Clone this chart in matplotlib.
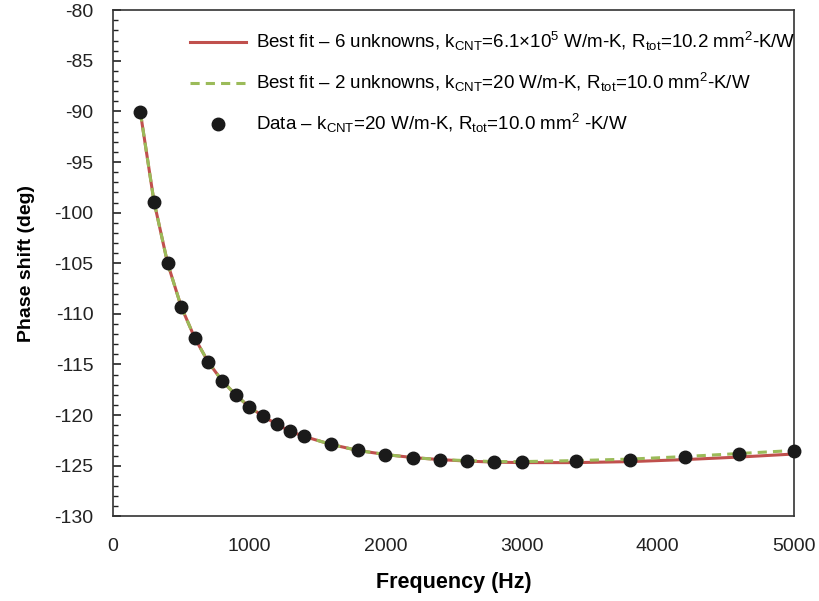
import matplotlib
matplotlib.use('Agg')
import matplotlib.pyplot as plt
from matplotlib.ticker import MultipleLocator

plt.rcParams['font.family'] = ['Liberation Sans', 'DejaVu Sans']
plt.rcParams['mathtext.fontset'] = 'custom'
plt.rcParams['mathtext.rm'] = 'Liberation Sans'
plt.rcParams['mathtext.it'] = 'Liberation Sans'
plt.rcParams['axes.unicode_minus'] = False

# Datos medidos
freq = [200, 300, 400, 500, 600, 700, 800, 900, 1000, 1100, 1200, 1300, 1400,
        1600, 1800, 2000, 2200, 2400, 2600, 2800, 3000, 3400, 3800, 4200, 4600, 5000]
phase_data = [-90.1, -98.9, -105.0, -109.3, -112.4, -114.8, -116.6, -118.0, -119.2,
              -120.1, -120.9, -121.6, -122.1, -122.9, -123.5, -123.9, -124.2, -124.4,
              -124.5, -124.6, -124.6, -124.5, -124.4, -124.15, -123.8, -123.55]

# Ajustes
fit6 = [-90.1, -98.9, -105.0, -109.3, -112.4, -114.8, -116.6, -118.0, -119.2,
        -120.1, -120.9, -121.6, -122.1, -122.9, -123.5, -123.9, -124.2, -124.4,
        -124.55, -124.65, -124.7, -124.7, -124.6, -124.4, -124.15, -123.85]
fit2 = [-90.1, -98.9, -105.0, -109.3, -112.4, -114.8, -116.6, -118.0, -119.2,
        -120.1, -120.9, -121.6, -122.1, -122.9, -123.5, -123.9, -124.2, -124.4,
        -124.5, -124.6, -124.6, -124.5, -124.35, -124.1, -123.8, -123.5]

lbl6 = r'Best fit – 6 unknowns, k$_{\mathrm{CNT}}$=6.1×10$^{5}$ W/m-K, R$_{\mathrm{tot}}$=10.2 mm$^{2}$-K/W'
lbl2 = r'Best fit – 2 unknowns, k$_{\mathrm{CNT}}$=20 W/m-K, R$_{\mathrm{tot}}$=10.0 mm$^{2}$-K/W'
lbld = r'Data – k$_{\mathrm{CNT}}$=20 W/m-K, R$_{\mathrm{tot}}$=10.0 mm$^{2}$ -K/W'

fig = plt.figure(figsize=(8.2, 6.01), dpi=100)
ax = fig.add_axes([0.138, 0.141, 0.830, 0.842])

ax.plot(freq, fit6, color='#C0504D', linewidth=2.2, label=lbl6, zorder=2)
ax.plot(freq, fit2, color='#9BBB59', linewidth=2.2, linestyle=(0, (3, 2)), label=lbl2, zorder=3)
ax.plot(freq, phase_data, 'o', color='#1a1a1a', markersize=9, label=lbld, zorder=4, clip_on=False)

ax.set_xlim(0, 5000)
ax.set_ylim(-130, -80)
ax.xaxis.set_major_locator(MultipleLocator(1000))
ax.yaxis.set_major_locator(MultipleLocator(5))
ax.yaxis.set_minor_locator(MultipleLocator(1))

ax.tick_params(axis='x', length=0, labelsize=14, pad=16, colors='#222222')
ax.tick_params(axis='y', which='major', direction='in', length=6, width=1.2,
               labelsize=14, pad=14, colors='#222222')
ax.tick_params(axis='y', which='minor', direction='in', length=3.5, width=1.0, colors='#222222')

for s in ax.spines.values():
    s.set_color('#333333')
    s.set_linewidth(1.2)

ax.set_xlabel('Frequency (Hz)', fontsize=15.5, fontweight='bold', labelpad=12)
ax.set_ylabel('Phase shift (deg)', fontsize=14, fontweight='bold', labelpad=14)

leg = ax.legend(loc='upper right', bbox_to_anchor=(1.014, 0.975), frameon=False,
                fontsize=13.5, handlelength=3.0, labelspacing=0.95,
                borderaxespad=0, handletextpad=0.55)

plt.savefig('out.png', dpi=100)
